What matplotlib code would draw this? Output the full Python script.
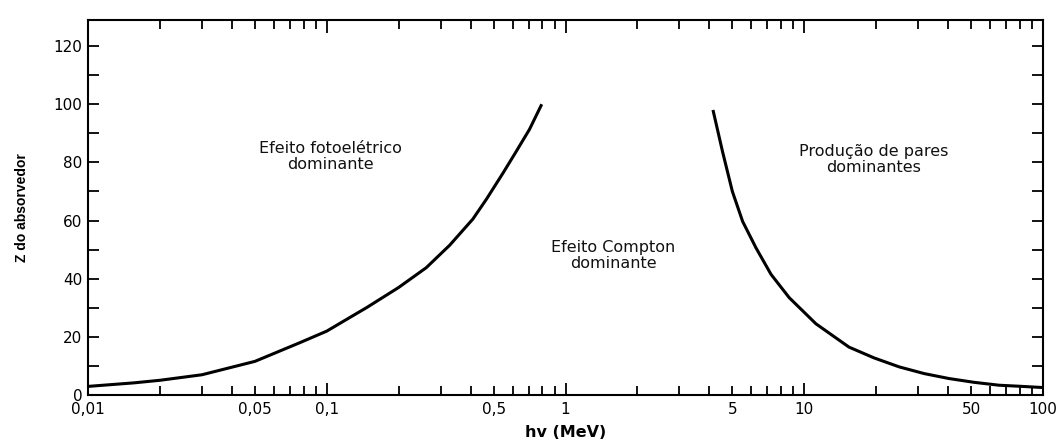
import numpy as np
import matplotlib
matplotlib.use("Agg")
import matplotlib.pyplot as plt
from matplotlib.ticker import FixedLocator, NullFormatter

# fronteira fotoelétrico / Compton
photo_e = [0.01, 0.0155, 0.02, 0.03, 0.05, 0.077, 0.1, 0.125, 0.147, 0.2, 0.261,
           0.327, 0.409, 0.466, 0.547, 0.62, 0.706, 0.79]
photo_z = [3.0, 4.2, 5.1, 7.0, 11.6, 18.0, 22.0, 26.7, 30.1, 37.0, 43.8,
           51.5, 60.5, 67.3, 76.3, 83.6, 91.3, 99.5]

# fronteira Compton / produção de pares
pair_e = [4.16, 4.55, 5.0, 5.52, 6.28, 7.26, 8.65, 11.2, 15.4, 19.6, 25.0,
          31.8, 40.4, 51.4, 65.5, 81.7, 100.0]
pair_z = [97.5, 83.6, 70.0, 59.7, 50.6, 41.5, 33.5, 24.5, 16.5, 12.8, 9.7,
          7.4, 5.7, 4.4, 3.4, 3.0, 2.6]

xtick_vals = [0.01, 0.05, 0.1, 0.5, 1, 5, 10, 50, 100]
xtick_labels = ["0,01", "0,05", "0,1", "0,5", "1", "5", "10", "50", "100"]
ytick_labels = [0, 20, 40, 60, 80, 100, 120]

region_labels = [
    (0.104, 82, "Efeito fotoelétrico\ndominante"),
    (1.59, 48, "Efeito Compton\ndominante"),
    (19.6, 81, "Produção de pares\ndominantes"),
]

plt.rcParams['font.family'] = ['DejaVu Sans']

fig = plt.figure(figsize=(10.61, 4.4), dpi=100)
ax = fig.add_axes([0.083, 0.102, 0.9, 0.853])

ax.plot(photo_e, photo_z, color="black", lw=2.2, solid_joinstyle="round")
ax.plot(pair_e, pair_z, color="black", lw=2.2, solid_joinstyle="round")

for x, y, s in region_labels:
    ax.text(x, y, s, ha="center", va="center", fontsize=11.5,
            linespacing=1.05, color="#111111")

ax.set_xscale("log")
ax.set_xlim(0.01, 100)
ax.set_ylim(0, 129)

# ticks do eixo x: décadas + 2..9
minor = [m * 10.0 ** d for d in range(-2, 2) for m in range(2, 10)]
ax.xaxis.set_major_locator(FixedLocator([0.01, 0.1, 1, 10, 100]))
ax.xaxis.set_minor_locator(FixedLocator(minor))
ax.xaxis.set_major_formatter(NullFormatter())
ax.xaxis.set_minor_formatter(NullFormatter())
for v, l in zip(xtick_vals, xtick_labels):
    ax.text(v, -2.5, l, ha="center", va="top", fontsize=11)

ax.set_yticks(np.arange(0, 130, 10))
ax.set_yticklabels([str(v) if v in ytick_labels else "" for v in range(0, 130, 10)])

ax.tick_params(axis="x", which="major", direction="in", length=9, width=1.3,
               top=True, bottom=True)
ax.tick_params(axis="x", which="minor", direction="in", length=6.5, width=1.3,
               top=True, bottom=True)
ax.tick_params(axis="y", which="major", direction="in", length=8, width=1.3,
               left=True, right=True, labelsize=11, pad=4)

for sp in ax.spines.values():
    sp.set_linewidth(1.5)

ax.set_xlabel("hv (MeV)", fontsize=11.5, fontweight="bold", labelpad=18)
ax.set_ylabel("Z do absorvedor", family=["Liberation Sans Narrow", "Liberation Sans"],
              fontsize=10, fontweight="bold", labelpad=18)

fig.savefig("out.png", dpi=100, facecolor="white")
